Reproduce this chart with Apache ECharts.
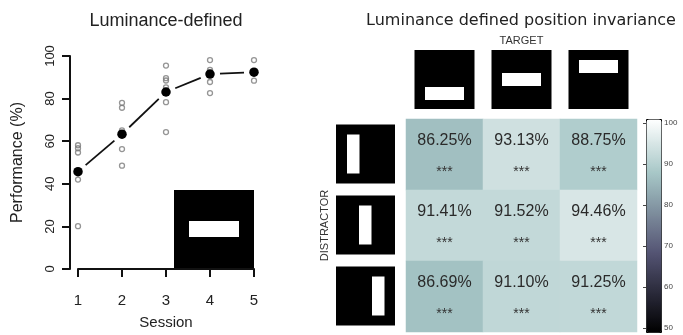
<!DOCTYPE html>
<html>
<head>
<meta charset="utf-8">
<script src="https://cdn.jsdelivr.net/npm/echarts@6/dist/echarts.min.js"></script>
<style>
  html, body { margin: 0; padding: 0; background: #fff; }
  #chart { width: 683px; height: 335px; }
</style>
</head>
<body>
<div id="chart"></div>
<script>
// ---- Learning curve: performance per training session ----
const sessions = [1, 2, 3, 4, 5];
const sessionMeans = [45.7, 63.3, 83.1, 91.5, 92.4];
const subjectScores = [
  [58.1, 56.7, 54.7, 42.0, 20.1],
  [78.0, 75.7, 65.1, 56.3, 48.5],
  [95.5, 89.6, 88.5, 85.3, 78.3, 64.3],
  [98.1, 93.5, 87.8, 82.6],
  [98.1, 88.4]
];
const performanceTicks = [0, 20, 40, 60, 80, 100];

// ---- Position invariance matrix (rows: distractor, columns: target) ----
const targetPositions = ['bottom', 'middle', 'top'];
const distractorPositions = ['left', 'center', 'right'];
const accuracy = [
  [86.25, 93.13, 88.75],
  [91.41, 91.52, 94.46],
  [86.69, 91.10, 91.25]
];
const significance = [
  ['***', '***', '***'],
  ['***', '***', '***'],
  ['***', '***', '***']
];
const colorbarTicks = [50, 60, 70, 80, 90, 100];

// MATLAB "bone" colormap sampled at 9 even stops
const boneColors = ['#000000', '#1c1c27', '#38384d', '#545474', '#707a8f',
                    '#8ba1ab', '#a7c7c7', '#d3e3e3', '#ffffff'];

const SANS = '"Liberation Sans", Arial, sans-serif';

const subjectPoints = [];
subjectScores.forEach((scores, i) => {
  scores.forEach(v => subjectPoints.push([sessions[i], v]));
});
const meanPoints = sessions.map((s, i) => [s, sessionMeans[i]]);
const meanSegments = sessions.slice(0, -1).map((s, i) =>
  [s, sessionMeans[i], sessions[i + 1], sessionMeans[i + 1]]);

const heatData = [];
accuracy.forEach((row, r) => row.forEach((v, c) => heatData.push([c, r, v])));

const chart = echarts.init(document.getElementById('chart'), null, { renderer: 'canvas' });

const axisBlack = { color: '#111', width: 2 };

chart.setOption({
  animation: false,
  backgroundColor: '#fff',
  title: [
    {
      text: 'Luminance-defined', left: 161, top: 7, textAlign: 'center',
      textStyle: { fontFamily: SANS, fontSize: 18, fontWeight: 'normal', color: '#222' }
    },
    {
      text: 'Luminance defined position invariance', left: 516, top: 8, textAlign: 'center',
      textStyle: { fontFamily: '"DejaVu Sans", Verdana, sans-serif', fontSize: 16, fontWeight: 'normal', color: '#222' }
    }
  ],
  grid: [
    { left: 78, top: 56, width: 176, height: 215 },
    { left: 406, top: 119, width: 231, height: 213 },
    { left: 646, top: 123, width: 15, height: 205 }
  ],
  xAxis: [
    {
      gridIndex: 0, type: 'value', min: 1, max: 5, interval: 1, offset: 9,
      axisLine: { show: true, lineStyle: axisBlack },
      axisTick: { show: true, length: 8, lineStyle: axisBlack },
      axisLabel: { fontFamily: SANS, fontSize: 15, color: '#222', margin: 15 },
      splitLine: { show: false },
      name: 'Session', nameLocation: 'middle', nameGap: 37,
      nameTextStyle: { fontFamily: SANS, fontSize: 15, color: '#222' }
    },
    { gridIndex: 1, type: 'category', data: targetPositions, show: false },
    { gridIndex: 2, type: 'value', show: false }
  ],
  yAxis: [
    {
      gridIndex: 0, type: 'value', min: 0, max: 100, interval: 20, offset: 8,
      axisLine: { show: true, lineStyle: axisBlack },
      axisTick: { show: true, length: 8, lineStyle: axisBlack },
      axisLabel: {
        fontFamily: SANS, fontSize: 13, color: '#222', rotate: 90, margin: 13,
        customValues: performanceTicks
      },
      splitLine: { show: false },
      name: 'Performance (%)', nameLocation: 'middle', nameGap: 44,
      nameTextStyle: { fontFamily: SANS, fontSize: 16, color: '#222' }
    },
    { gridIndex: 1, type: 'category', data: distractorPositions, inverse: true, show: false },
    {
      gridIndex: 2, type: 'value', min: 50, max: 100, interval: 10, position: 'right',
      axisLine: { show: false },
      axisTick: { show: true, inside: true, length: 3, lineStyle: { color: '#444', width: 1 } },
      axisLabel: { fontFamily: SANS, fontSize: 8, color: '#444', margin: 3, customValues: colorbarTicks },
      splitLine: { show: false }
    },
    {
      gridIndex: 2, type: 'value', min: 50, max: 100, interval: 10, position: 'left',
      axisLine: { show: false },
      axisTick: { show: true, inside: true, length: 3, lineStyle: { color: '#444', width: 1 } },
      axisLabel: { show: false },
      splitLine: { show: false }
    }
  ],
  visualMap: {
    type: 'continuous', seriesIndex: 3, min: 50, max: 100,
    inRange: { color: boneColors },
    calculable: false, hoverLink: false,
    orient: 'vertical', left: 646, top: 119, itemWidth: 15, itemHeight: 213,
    padding: 0, text: null, showLabel: false,
    borderColor: '#000', borderWidth: 1
  },
  series: [
    {
      // segments between session means, with small gaps at the points
      type: 'custom', xAxisIndex: 0, yAxisIndex: 0,
      data: meanSegments, encode: { x: [0, 2], y: [1, 3] },
      renderItem: (params, api) => {
        const p0 = api.coord([api.value(0), api.value(1)]);
        const p1 = api.coord([api.value(2), api.value(3)]);
        const dx = p1[0] - p0[0], dy = p1[1] - p0[1];
        const len = Math.sqrt(dx * dx + dy * dy);
        const gap = 10;
        const ux = dx / len, uy = dy / len;
        return {
          type: 'line',
          shape: { x1: p0[0] + ux * gap, y1: p0[1] + uy * gap, x2: p1[0] - ux * gap, y2: p1[1] - uy * gap },
          style: { stroke: '#111', lineWidth: 1.8 }
        };
      },
      z: 2, silent: true
    },
    {
      type: 'scatter', xAxisIndex: 0, yAxisIndex: 0, data: subjectPoints,
      symbol: 'circle', symbolSize: 5,
      itemStyle: { color: 'rgba(0,0,0,0)', borderColor: '#7a7a7a', borderWidth: 1.3 },
      clip: false, z: 3, silent: true
    },
    {
      type: 'scatter', xAxisIndex: 0, yAxisIndex: 0, data: meanPoints,
      symbol: 'circle', symbolSize: 9.5, itemStyle: { color: '#000', opacity: 1 },
      clip: false, z: 4, silent: true
    },
    {
      type: 'heatmap', xAxisIndex: 1, yAxisIndex: 1, data: heatData,
      label: {
        show: true, offset: [0, 2],
        formatter: p => `{p|${p.value[2].toFixed(2)}%}\n{s|${significance[p.value[1]][p.value[0]]}}`,
        rich: {
          p: { fontFamily: SANS, fontSize: 16, color: '#2a2a2a', lineHeight: 31 },
          s: { fontFamily: SANS, fontSize: 14, color: '#333', lineHeight: 31 }
        }
      },
      itemStyle: { borderWidth: 0 },
      silent: true
    }
  ]
});

// Stimulus icons placed around the matrix and the learning-curve panel
function buildStimuli() {
  const c00 = chart.convertToPixel({ xAxisIndex: 1, yAxisIndex: 1 }, [0, 0]);
  const c11 = chart.convertToPixel({ xAxisIndex: 1, yAxisIndex: 1 }, [1, 1]);
  const cellW = c11[0] - c00[0], cellH = c11[1] - c00[1];
  const gridLeft = c00[0] - cellW / 2, gridTop = c00[1] - cellH / 2;
  const els = [];

  // targets: horizontal bar at bottom / middle / top of a black square
  const targetBarOffsets = [37, 23, 10];
  targetPositions.forEach((t, i) => {
    const cx = c00[0] + i * cellW;
    const left = cx - 30, top = gridTop - 69;
    els.push({ type: 'rect', shape: { x: left, y: top, width: 60, height: 59 }, style: { fill: '#000' } });
    els.push({ type: 'rect', shape: { x: cx - 19.5, y: top + targetBarOffsets[i], width: 39, height: 13 }, style: { fill: '#fff' } });
  });

  // distractors: vertical bar at left / center / right of a black square
  const distractorBarOffsets = [11, 23, 36];
  distractorPositions.forEach((d, i) => {
    const cy = c00[1] + i * cellH;
    const left = gridLeft - 70, top = cy - 30;
    els.push({ type: 'rect', shape: { x: left, y: top, width: 59, height: 59 }, style: { fill: '#000' } });
    els.push({ type: 'rect', shape: { x: left + distractorBarOffsets[i], y: top + 10, width: 12.5, height: 39 }, style: { fill: '#fff' } });
  });

  els.push({
    type: 'text', x: c00[0] + cellW, y: gridTop - 78,
    style: { text: 'TARGET', fontFamily: SANS, fontSize: 11, fill: '#333', align: 'center', verticalAlign: 'middle' }
  });
  els.push({
    type: 'text', x: gridLeft - 81, y: c00[1] + cellH, rotation: Math.PI / 2,
    style: { text: 'DISTRACTOR', fontFamily: SANS, fontSize: 11, fill: '#333', align: 'center', verticalAlign: 'middle' }
  });

  // stimulus inset in the learning-curve panel (bottom-right corner of the plot)
  const corner = chart.convertToPixel({ xAxisIndex: 0, yAxisIndex: 0 }, [5, 0]);
  els.push({ type: 'rect', shape: { x: corner[0] - 80, y: corner[1] - 79, width: 80, height: 79 }, style: { fill: '#000' } });
  els.push({ type: 'rect', shape: { x: corner[0] - 65, y: corner[1] - 48, width: 50, height: 16 }, style: { fill: '#fff' } });

  chart.setOption({ graphic: els.map(e => Object.assign({ silent: true }, e)) });
}
buildStimuli();
</script>
</body>
</html>
